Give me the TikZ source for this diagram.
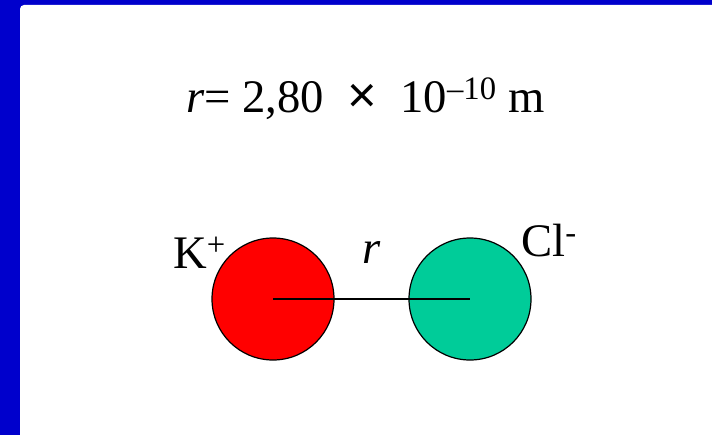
\documentclass[tikz,border=0pt]{standalone}
\usepackage{fontspec}
\setmainfont{Liberation Serif}
\newfontfamily\crossfont{Liberation Sans}
\usetikzlibrary{calc, positioning}

\begin{document}
\begin{tikzpicture}[x=0.75pt, y=-0.75pt,
  ion/.style={circle, draw=black, line width=0.9pt, minimum size=91.5pt, inner sep=0pt},
  lbl/.style={anchor=base west, inner sep=0pt, font=\fontsize{35}{40}\selectfont}]
\def\rad{61}
\definecolor{slideblue}{HTML}{0000CC}
\definecolor{kred}{HTML}{FF0000}
\definecolor{clgreen}{HTML}{00CC99}

\useasboundingbox (0,0) rectangle (712,435);
\clip (0,0) rectangle (712,435);
\fill[slideblue] (0,0) rectangle (712,435);
\fill[white, rounded corners=3pt] (20,5) rectangle (740,460);

\node[lbl] (dist) at (186,112) {\textit{r}= 2,80 \ {\crossfont\fontsize{38}{40}\selectfont\texttimes}\ \ 10\textsuperscript{–10} m};

\node[ion, fill=kred] (kion) at (273,299) {};
\node[ion, fill=clgreen] (clion) at (470,299) {};

\draw[line width=1.2pt] (kion.center) -- (clion.center);

\node[lbl] (klbl) at (173,268) {K\textsuperscript{+}};
\node[lbl] (rlbl) at (362,263) {\textit{r}};
\node[lbl] (cllbl) at (521,256) {Cl\textsuperscript{-}};
\end{tikzpicture}
\end{document}
